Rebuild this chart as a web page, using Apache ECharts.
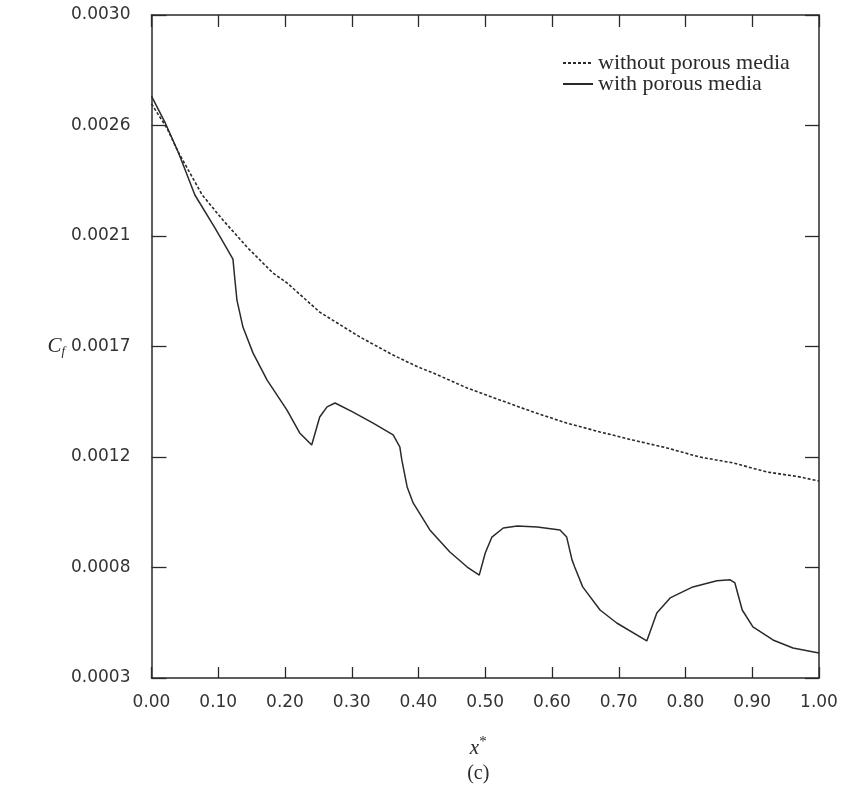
<!DOCTYPE html>
<html>
<head>
<meta charset="utf-8">
<script src="https://cdn.jsdelivr.net/npm/echarts@6/dist/echarts.min.js"></script>
<style>
  html, body { margin: 0; padding: 0; background: #fff; }
  #chart { width: 842px; height: 789px; }
</style>
</head>
<body>
<div id="chart"></div>
<script>
// skin friction coefficient along x*
const xWithout = [0.00, 0.023, 0.040, 0.076, 0.107, 0.143, 0.182, 0.203, 0.252, 0.312, 0.362, 0.399,
  0.422, 0.473, 0.522, 0.572, 0.622, 0.672, 0.721, 0.772, 0.821, 0.871, 0.922, 0.971, 1.00]
const cfWithout = [0.002638, 0.002540, 0.002442, 0.002267, 0.002165, 0.002055, 0.001949, 0.001909,
  0.001790, 0.001689, 0.001615, 0.001567, 0.001542, 0.001481, 0.001432, 0.001383, 0.001338,
  0.001302, 0.001269, 0.001237, 0.001200, 0.001176, 0.001139, 0.001119, 0.001102]

const xWith = [0.00, 0.020, 0.040, 0.065, 0.095, 0.110, 0.122, 0.125, 0.128, 0.137, 0.152, 0.173,
  0.203, 0.222, 0.240, 0.252, 0.263, 0.275, 0.302, 0.332, 0.362, 0.372, 0.375, 0.383, 0.392,
  0.417, 0.447, 0.473, 0.491, 0.500, 0.510, 0.527, 0.548, 0.578, 0.612, 0.622, 0.630, 0.634,
  0.646, 0.672, 0.697, 0.742, 0.757, 0.777, 0.811, 0.847, 0.867, 0.874, 0.885, 0.901, 0.931,
  0.961, 1.00]
const cfWith = [0.002670, 0.002564, 0.002442, 0.002267, 0.002133, 0.002063, 0.002006, 0.001921,
  0.001839, 0.001729, 0.001624, 0.001514, 0.001391, 0.001298, 0.001249, 0.001363, 0.001404,
  0.001420, 0.001383, 0.001338, 0.001290, 0.001241, 0.001188, 0.001078, 0.001013, 0.000903,
  0.000813, 0.000752, 0.000719, 0.000809, 0.000874, 0.000911, 0.000919, 0.000915, 0.000903,
  0.000874, 0.000781, 0.000752, 0.000671, 0.000577, 0.000524, 0.000451, 0.000565, 0.000626,
  0.000671, 0.000696, 0.000700, 0.000687, 0.000577, 0.000508, 0.000455, 0.000422, 0.000402]

// y ticks are evenly spaced, labels rounded to 4 decimals
const yTickValues = [0.0003, 0.00075, 0.0012, 0.00165, 0.0021, 0.00255, 0.0030]
const yTickLabels = ['0.0003', '0.0008', '0.0012', '0.0017', '0.0021', '0.0026', '0.0030']

const seriesNames = ['without porous media', 'with porous media']

const ink = '#2a2a2a'
const numFont = 'DejaVu Sans'
const serif = 'Liberation Serif'

function yLabel(v) {
  let best = 0
  yTickValues.forEach((t, i) => {
    if (Math.abs(t - v) < Math.abs(yTickValues[best] - v)) best = i
  })
  return yTickLabels[best]
}

const chart = echarts.init(document.getElementById('chart'))

// axis lines form the closed frame; onZero off so the right axis stays at the right
const frameLine = { show: true, onZero: false, lineStyle: { color: ink, width: 1.5 } }
const tickLine = { color: ink, width: 1.3 }

chart.setOption({
  animation: false,
  grid: { left: 151.5, right: 23, top: 15, bottom: 111 },
  legend: {
    orient: 'vertical',
    left: 557,
    top: 47,
    itemWidth: 30,
    itemHeight: 10,
    itemGap: -1,
    data: seriesNames,
    itemStyle: { color: 'transparent', borderColor: 'transparent', borderWidth: 0 },
    textStyle: { fontFamily: serif, fontSize: 22, color: ink, lineHeight: 21 },
  },
  xAxis: [
    {
      type: 'value',
      min: 0,
      max: 1,
      interval: 0.1,
      axisLine: frameLine,
      axisTick: { inside: true, length: 11, lineStyle: tickLine },
      axisLabel: {
        margin: 16,
        fontFamily: numFont,
        fontSize: 17,
        color: '#333',
        formatter: (v) => v.toFixed(2),
      },
      splitLine: { show: false },
      name: '{x|x}{s|*}\n{c|(c)}',
      nameLocation: 'middle',
      nameGap: 57,
      nameTextStyle: {
        padding: [0, 14, 0, 0],
        rich: {
          x: { fontFamily: serif, fontStyle: 'italic', fontSize: 21, color: ink, lineHeight: 26 },
          s: { fontFamily: serif, fontSize: 15, color: ink, verticalAlign: 'top', lineHeight: 26 },
          c: { fontFamily: serif, fontSize: 20, color: ink, lineHeight: 26 },
        },
      },
    },
    {
      type: 'value',
      position: 'top',
      min: 0,
      max: 1,
      interval: 0.1,
      axisLine: frameLine,
      axisTick: { inside: true, length: 12, lineStyle: tickLine },
      axisLabel: { show: false },
      splitLine: { show: false },
    },
  ],
  yAxis: [
    {
      type: 'value',
      position: 'left',
      min: 0.0003,
      max: 0.0030,
      axisLine: frameLine,
      axisTick: {
        inside: true,
        length: 15,
        customValues: yTickValues,
        lineStyle: tickLine,
      },
      axisLabel: {
        margin: 21,
        customValues: yTickValues,
        fontFamily: numFont,
        fontSize: 17,
        color: '#333',
        formatter: (v) => yLabel(v),
      },
      splitLine: { show: false },
      name: '{c|C}{f|f}',
      nameLocation: 'middle',
      nameRotate: 0,
      nameGap: 46,
      nameTextStyle: {
        rich: {
          c: { fontFamily: serif, fontStyle: 'italic', fontSize: 21, color: ink },
          f: { fontFamily: serif, fontStyle: 'italic', fontSize: 13, color: ink, verticalAlign: 'bottom', padding: [10, 0, 0, 0] },
        },
      },
    },
    {
      type: 'value',
      position: 'right',
      min: 0.0003,
      max: 0.0030,
      axisLine: frameLine,
      axisTick: {
        inside: true,
        length: 14,
        customValues: yTickValues,
        lineStyle: tickLine,
      },
      axisLabel: { show: false },
      splitLine: { show: false },
    },
  ],
  series: [
    {
      name: seriesNames[0],
      type: 'line',
      symbol: 'none',
      lineStyle: { color: ink, width: 1.6, type: [3, 2] },
      itemStyle: { color: ink },
      data: xWithout.map((x, i) => [x, cfWithout[i]]),
    },
    {
      name: seriesNames[1],
      type: 'line',
      symbol: 'none',
      lineStyle: { color: ink, width: 1.5 },
      itemStyle: { color: ink },
      data: xWith.map((x, i) => [x, cfWith[i]]),
    },
  ],
})
</script>
</body>
</html>
